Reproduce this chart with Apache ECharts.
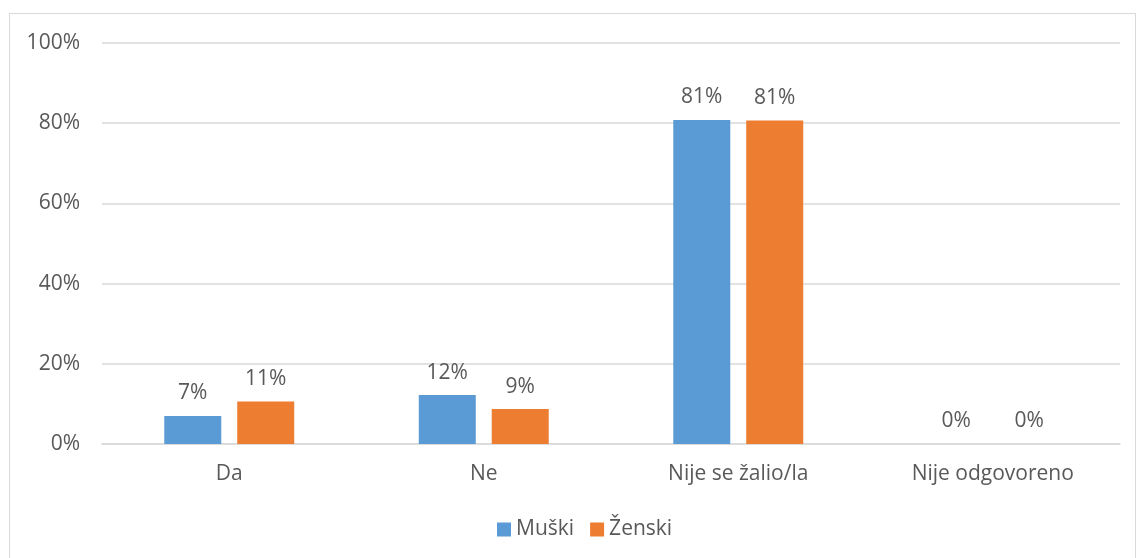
<!DOCTYPE html>
<html>
<head>
<meta charset="utf-8">
<script src="https://cdn.jsdelivr.net/npm/echarts@6/dist/echarts.min.js"></script>
<style>
  html, body { margin: 0; padding: 0; background: #fff; }
  #frame { position: absolute; left: 9px; top: 13px; width: 1127px; height: 545px; border: 1px solid #d9d9d9; border-bottom: none; box-sizing: border-box; }
  #chart { position: absolute; left: 0; top: 0; width: 1138px; height: 558px; }
</style>
</head>
<body>
<div id="frame"></div>
<div id="chart"></div>
<script>
// Answers by gender, share of respondents (%)
const categories = ['Da', 'Ne', 'Nije se žalio/la', 'Nije odgovoreno'];
const muski = [7.0, 12.2, 80.8, 0];
const zenski = [10.6, 8.7, 80.7, 0];
const yTicks = [0, 20, 40, 60, 80, 100];

const font = 'Open Sans, DejaVu Sans, sans-serif';
const textColor = '#595959';
const fontSize = 21;

const chart = echarts.init(document.getElementById('chart'), null, { renderer: 'canvas' });

function barSeries(name, values, color) {
  return {
    name: name,
    type: 'bar',
    data: values,
    barWidth: 57,
    barGap: '28%',
    itemStyle: { color: color },
    label: {
      show: true,
      position: 'top',
      distance: 12,
      color: textColor,
      fontFamily: font,
      fontSize: fontSize,
      formatter: p => Math.round(p.value) + '%'
    }
  };
}

chart.setOption({
  animation: false,
  grid: { left: 102, right: 18, top: 43, bottom: 114 },
  legend: {
    bottom: 13,
    left: 492,
    itemWidth: 14,
    itemHeight: 14,
    itemGap: 16,
    icon: 'rect',
    textStyle: { color: textColor, fontFamily: font, fontSize: fontSize, padding: [0, 0, 0, 0] },
    data: ['Muški', 'Ženski']
  },
  xAxis: {
    type: 'category',
    data: categories,
    axisLine: { lineStyle: { color: '#d9d9d9', width: 1.5 } },
    axisTick: { show: false },
    axisLabel: { color: textColor, fontFamily: font, fontSize: fontSize, margin: 20 }
  },
  yAxis: {
    type: 'value',
    min: 0,
    max: 100,
    interval: 20,
    axisLine: { show: false },
    axisTick: { show: false },
    splitLine: { lineStyle: { color: '#d9d9d9', width: 1.5 } },
    axisLabel: {
      color: textColor, fontFamily: font, fontSize: fontSize, margin: 22,
      formatter: v => (yTicks.includes(v) ? v + '%' : '')
    }
  },
  series: [
    barSeries('Muški', muski, '#5b9bd5'),
    barSeries('Ženski', zenski, '#ed7d31')
  ]
});
</script>
</body>
</html>
